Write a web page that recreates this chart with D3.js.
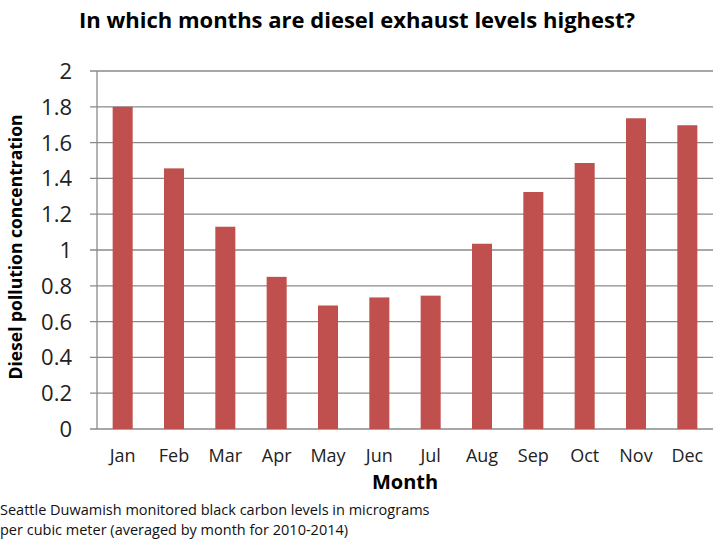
<!DOCTYPE html>
<html lang="en">
<head>
    <meta charset="UTF-8">
    <title>Diesel exhaust by month</title>
    <script src="https://d3js.org/d3.v7.min.js"></script>
    <style>
        body { margin: 0; background: #fff; font-family: "Open Sans", "Noto Sans", sans-serif; }
        .grid line { stroke: #8a8a8a; stroke-width: 1.3px; }
        .title { font-size: 22px; font-weight: bold; }
        .axis-label { font-weight: bold; }
    </style>
</head>
<body>
    <div id="chart"></div>
    <script>
        const months = ["Jan", "Feb", "Mar", "Apr", "May", "Jun", "Jul", "Aug", "Sep", "Oct", "Nov", "Dec"];
        const values = [1.80, 1.456, 1.13, 0.85, 0.69, 0.735, 0.745, 1.035, 1.324, 1.486, 1.736, 1.697];
        const yTicks = [0, 0.2, 0.4, 0.6, 0.8, 1, 1.2, 1.4, 1.6, 1.8, 2];
        const captionLines = ["Seattle Duwamish monitored black carbon levels in micrograms",
            "per cubic meter (averaged by month for 2010-2014)"];

        const W = 720, H = 540;
        const margin = { top: 71, right: 7, bottom: 111, left: 97 };
        const width = W - margin.left - margin.right,
            height = H - margin.top - margin.bottom;

        const root = d3.select("#chart").append("svg")
            .attr("width", W).attr("height", H);
        const svg = root.append("g")
            .attr("transform", `translate(${margin.left},${margin.top})`);

        const x = d3.scaleBand().domain(months).range([0, width]).paddingInner(0.61).paddingOuter(0.305);
        const y = d3.scaleLinear().domain([0, 2]).range([height, 0]);

        // horizontal gridlines with tick marks sticking out left
        svg.append("g").attr("class", "grid")
            .selectAll("line").data(yTicks).enter().append("line")
            .attr("x1", -7).attr("x2", width)
            .attr("y1", d => y(d)).attr("y2", d => y(d));

        svg.append("line")
            .attr("x1", 0).attr("x2", 0).attr("y1", 0).attr("y2", height)
            .attr("stroke", "#8a8a8a").attr("stroke-width", 1.3);

        svg.selectAll("rect").data(values).enter().append("rect")
            .attr("x", (d, i) => x(months[i]))
            .attr("width", x.bandwidth())
            .attr("y", d => y(d))
            .attr("height", d => height - y(d))
            .attr("fill", "#c0504d");

        svg.append("g").selectAll("text").data(yTicks).enter().append("text")
            .attr("x", -25).attr("y", d => y(d)).attr("dy", "0.36em")
            .attr("text-anchor", "end").attr("font-size", 22).attr("fill", "#222")
            .text(d => d);

        svg.append("g").selectAll("text").data(months).enter().append("text")
            .attr("x", d => x(d) + x.bandwidth() / 2).attr("y", height + 33)
            .attr("text-anchor", "middle").attr("font-size", 18).attr("fill", "#222")
            .text(d => d);

        svg.append("text").attr("class", "axis-label")
            .attr("x", width / 2).attr("y", height + 60)
            .attr("text-anchor", "middle").attr("font-size", 20)
            .text("Month");

        root.append("text").attr("class", "axis-label")
            .attr("transform", "rotate(-90)")
            .attr("x", -(margin.top + height / 2) + 3).attr("y", 22)
            .attr("text-anchor", "middle").attr("font-size", 17.5)
            .text("Diesel pollution concentration");

        root.append("text").attr("class", "title")
            .attr("x", 357).attr("y", 28).attr("text-anchor", "middle")
            .text("In which months are diesel exhaust levels highest?");

        root.append("g").selectAll("text").data(captionLines).enter().append("text")
            .attr("x", 0).attr("y", (d, i) => 515 + i * 20)
            .attr("font-size", 14.5).attr("fill", "#111")
            .text(d => d);
    </script>
</body>
</html>
